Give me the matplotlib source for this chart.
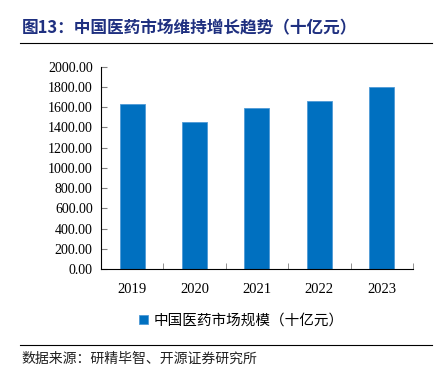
import matplotlib.pyplot as plt
import numpy as np

plt.rcParams['font.family'] = ['Noto Sans CJK SC', 'DejaVu Sans']

# data
years = ['2019', '2020', '2021', '2022', '2023']
market_size = [1632, 1449, 1590, 1659, 1797]  # 十亿元
y_ticks = np.arange(0, 2001, 200)

bar_color = '#0070C0'
title_color = '#1F3080'

fig = plt.figure(figsize=(4.36, 3.82), dpi=100)
ax = fig.add_axes([0.2317, 0.2958, 0.7153, 0.5296])

x = np.arange(len(years))
ax.bar(x, market_size, width=0.4, color=bar_color, edgecolor='#4f9ad6', linewidth=0.6,
       label='中国医药市场规模（十亿元）')

ax.set_xlim(-0.5, len(years) - 0.5)
ax.set_ylim(0, 2000)
ax.set_yticks(y_ticks)
ax.set_yticklabels(['%.2f' % v for v in y_ticks], family='Liberation Serif', fontsize=10)
ax.set_xticks(x)
ax.set_xticklabels(years, family='Liberation Serif', fontsize=10.5)
ax.set_xticks(np.arange(-0.5, len(years)), minor=True)
ax.tick_params(axis='x', which='major', length=0, pad=10)
ax.tick_params(axis='x', which='minor', direction='in', length=4, color='#808080')
ax.tick_params(axis='y', direction='in', length=4, color='#808080', pad=6)

for s in ['top', 'right']:
    ax.spines[s].set_visible(False)
for s in ['left', 'bottom']:
    ax.spines[s].set_color('#000000')
    ax.spines[s].set_linewidth(0.8)

ax.legend(loc='upper center', bbox_to_anchor=(0.45, -0.155), frameon=False,
          fontsize=10.5, handlelength=0.6, handleheight=0.6, handletextpad=0.4)

# title and source
fig.text(0.05, 0.925, '图13：中国医药市场维持增长趋势（十亿元）', fontsize=12,
         fontweight='bold', color=title_color, va='center')
fig.add_artist(plt.Line2D([0.045, 0.99], [0.887, 0.887], color='#000000', linewidth=0.8))
fig.add_artist(plt.Line2D([0.045, 0.99], [0.097, 0.097], color='#000000', linewidth=0.8))
fig.text(0.05, 0.062, '数据来源：研精毕智、开源证券研究所', fontsize=10, color='#202020', va='center')

fig.savefig('out.png', dpi=100)
